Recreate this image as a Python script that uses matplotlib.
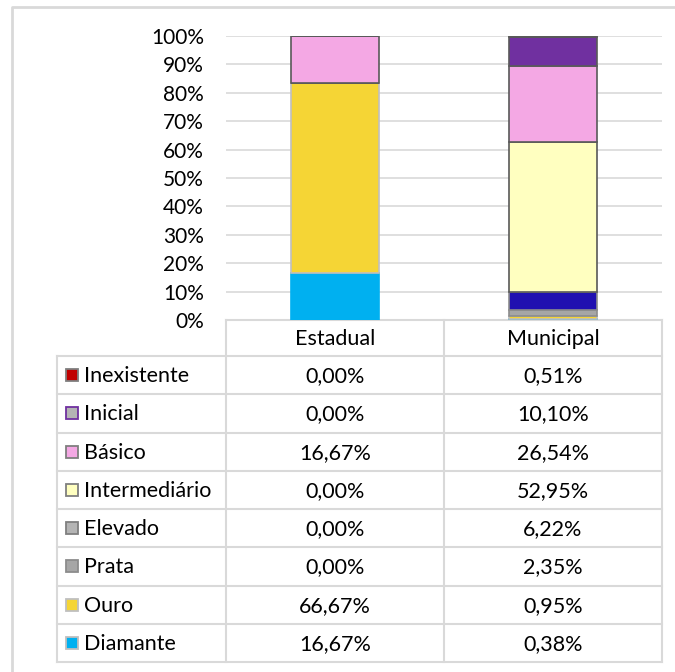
import matplotlib

matplotlib.use("Agg", force=True)

import matplotlib.pyplot as plt
import numpy as np
from matplotlib.patches import Rectangle

plt.rcParams["font.family"] = ["Lato", "DejaVu Sans"]

# data (percent), listed from the bottom of the stack up
categories = ["Estadual", "Municipal"]
levels = ["Diamante", "Ouro", "Prata", "Elevado", "Intermediário", "Básico", "Inicial", "Inexistente"]
estadual = [16.67, 66.67, 0.00, 0.00, 0.00, 16.67, 0.00, 0.00]
municipal = [0.38, 0.95, 2.35, 6.22, 52.95, 26.54, 10.10, 0.51]

bar_colors = ["#00B0F0", "#F5D535", "#A6A6A6", "#2010B0", "#FFFFC0", "#F4A8E4", "#7030A0", "#C00000"]
bar_edges = ["#00B0F0", "#BFBFBF", "#8C8C8C", "#8C8C8C", "#595959", "#595959", "#595959", "#595959"]
swatch_colors = ["#00B0F0", "#F5D535", "#A6A6A6", "#B4B4B4", "#FFFFC0", "#F4A8E4", "#B4B4B4", "#C00000"]
swatch_edges = ["#BFBFBF", "#BFBFBF", "#8C8C8C", "#7F7F7F", "#7F7F7F", "#7F7F7F", "#7030A0", "#7F7F7F"]

W, H = 675, 672
FS = 15.5
fig = plt.figure(figsize=(W / 100, H / 100), dpi=100)

# overlay in pixel coordinates for frame and data table
ov = fig.add_axes([0, 0, 1, 1])
ov.set_xlim(0, W)
ov.set_ylim(H, 0)
ov.axis("off")

ax = fig.add_axes([226 / W, 1 - 320 / H, (662 - 226) / W, (320 - 36) / H])
x = np.arange(len(categories))
series = np.array([estadual, municipal]).T
bottom = np.zeros(len(categories))
for i, name in enumerate(levels):
    vals = series[i]
    ax.bar(x, vals, 0.4, bottom=bottom, color=bar_colors[i],
           edgecolor=bar_edges[i], linewidth=1.2, zorder=3)
    bottom += vals

ax.set_xlim(-0.5, 1.5)
ax.set_ylim(0, 100)
ax.set_yticks(np.arange(0, 101, 10))
ax.set_yticklabels([f"{v}%" for v in range(0, 101, 10)])
ax.set_xticks([])
ax.tick_params(axis="y", length=0, labelsize=15, pad=16)
for v in range(10, 101, 10):
    ax.axhline(v, color="#D9D9D9", linewidth=1.2, zorder=1)
for s in ax.spines.values():
    s.set_visible(False)
ax.patch.set_alpha(0)

# outer frame (left and top edges visible)
ov.plot([11.5, 11.5, W + 5], [H + 5, 6.5, 6.5], color="#D9D9D9", linewidth=2)

# table
grid = "#D9D9D9"
cols = [57, 226, 444, 662]
top, head_bot, row_h = 320, 356, (662 - 356) / len(levels)
ov.plot([cols[1], cols[3]], [top, top], color=grid, lw=1.5)
for cx in cols[1:]:
    ov.plot([cx, cx], [top, 662], color=grid, lw=1.5)
ov.plot([cols[0], cols[0]], [head_bot, 662], color=grid, lw=1.5)
for r in range(len(levels) + 1):
    y = head_bot + r * row_h
    ov.plot([cols[0], cols[3]], [y, y], color=grid, lw=1.5)

for j, cat in enumerate(categories):
    ov.text((cols[j + 1] + cols[j + 2]) / 2, (top + head_bot) / 2 + 1, cat,
            ha="center", va="center", fontsize=FS, color="#000000")

for r, i in enumerate(range(len(levels) - 1, -1, -1)):
    yc = head_bot + (r + 0.5) * row_h
    ov.add_patch(Rectangle((66, yc - 6), 12, 12, facecolor=swatch_colors[i],
                           edgecolor=swatch_edges[i], linewidth=1.3))
    ov.text(84, yc + 1, levels[i], ha="left", va="center", fontsize=FS)
    for j, vals in enumerate([estadual, municipal]):
        txt = f"{vals[i]:.2f}".replace(".", ",") + "%"
        ov.text((cols[j + 1] + cols[j + 2]) / 2, yc + 1, txt, ha="center",
                va="center", fontsize=FS)

fig.savefig("out.png", dpi=100)
